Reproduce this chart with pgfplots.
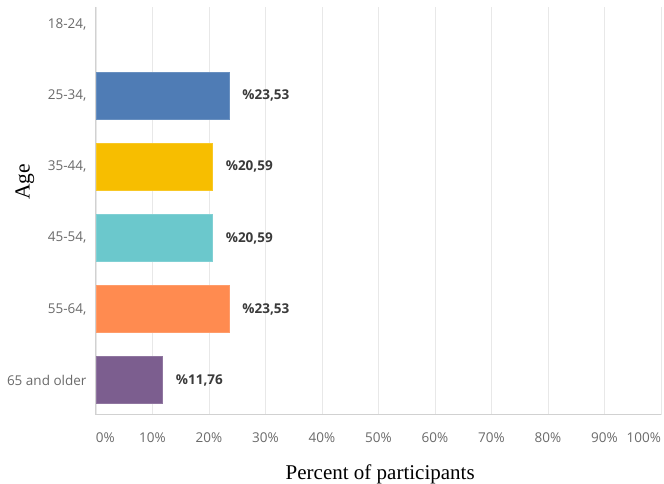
\documentclass[border=0pt]{standalone}
\usepackage{pgfplots}
\pgfplotsset{compat=1.18}
\usepackage{fontspec}
\setmainfont{Open Sans}
\newfontfamily\serifaxis{Liberation Serif}
\definecolor{cblue}{HTML}{4F7CB5}
\definecolor{cyellow}{HTML}{F7BE00}
\definecolor{cteal}{HTML}{6BC8CC}
\definecolor{corange}{HTML}{FF8B50}
\definecolor{cpurple}{HTML}{7C5E8F}
\definecolor{ticktext}{HTML}{6A6A6A}
\definecolor{valtext}{HTML}{3A3A3A}
\begin{document}
\begin{tikzpicture}[x=1pt,y=1pt]
\begin{axis}[
  scale only axis,
  width=565pt, height=408pt,
  xbar, bar width=47pt,
  xmin=0, xmax=100,
  ymin=-0.49, ymax=5.25,
  xtick={0,10,...,100},
  xticklabels={\rlap{0\%},10\%,20\%,30\%,40\%,50\%,60\%,70\%,80\%,90\%,\llap{100\%}},
  ytick={0,1,2,3,4,5},
  yticklabels={65 and older,{55-64,},{45-54,},{35-44,},{25-34,},{18-24,}},
  major tick length=0pt,
  axis line style={draw=none},
  xmajorgrids,
  grid style={draw=black!9, line width=0.8pt},
  tick label style={font=\fontsize{13.5}{15}\selectfont, text=ticktext},
  xticklabel style={yshift=-14pt},
  yticklabel style={xshift=-6pt},
  xlabel={Percent of participants},
  ylabel={Age},
  xlabel style={font=\serifaxis\fontsize{21}{23}\selectfont, at={(axis description cs:0.503,-0.157)}, anchor=base},
  ylabel style={font=\serifaxis\fontsize{21.5}{23}\selectfont, at={(axis description cs:-0.126,0.571)}, anchor=center},
  /pgf/number format/assume math mode=true,
  nodes near coords={\%\pgfmathprintnumber[fixed,fixed zerofill,precision=2,use comma,assume math mode=true]{\pgfplotspointmeta}},
  point meta=x,
  every node near coord/.append style={font=\bfseries\fontsize{13.5}{15}\selectfont, text=valtext, anchor=west, xshift=10pt},
  clip=false,
]
\addplot[fill=cblue, draw=cblue!85!white, bar shift=0pt] coordinates {(23.53,4)};
\addplot[fill=cyellow, draw=cyellow!85!white, bar shift=0pt] coordinates {(20.59,3)};
\addplot[fill=cteal, draw=cteal!85!white, bar shift=0pt] coordinates {(20.59,2)};
\addplot[fill=corange, draw=corange!85!white, bar shift=0pt] coordinates {(23.53,1)};
\addplot[fill=cpurple, draw=cpurple!85!white, bar shift=0pt] coordinates {(11.76,0)};
\draw[black!18, line width=1pt] (rel axis cs:0,1) -- (rel axis cs:0,0) -- (rel axis cs:1,0);
\coordinate (BL) at (rel axis cs:0,0);
\coordinate (TR) at (rel axis cs:1,1);
\end{axis}
\pgfresetboundingbox
\path[use as bounding box] ([shift={(-96pt,-69pt)}]BL) rectangle ([shift={(3pt,7pt)}]TR);
\end{tikzpicture}
\end{document}
